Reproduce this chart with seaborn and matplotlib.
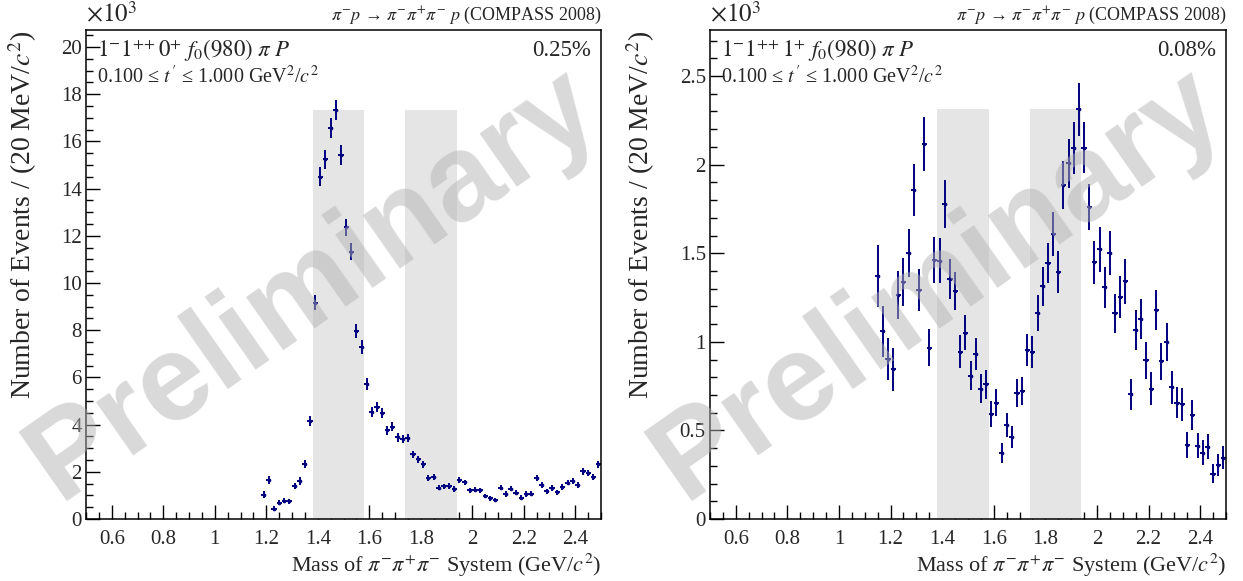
import numpy as np
import matplotlib
matplotlib.use('Agg')
import matplotlib.pyplot as plt
import seaborn as sns
from matplotlib.ticker import MultipleLocator, FuncFormatter

# bin centres (20 MeV bins)
bin_width = 0.02
mass_left = np.round(np.arange(1.19, 2.491, bin_width), 2)
mass_right = np.round(np.arange(1.15, 2.491, bin_width), 2)

# 1-1++0+ f0(980) pi P, events in units of 10^3
events_left = [1.02, 1.65, 0.44, 0.69, 0.78, 0.75, 1.40, 1.61, 2.32, 4.15,
               9.17, 14.50, 15.24, 16.55, 17.33, 15.42, 12.36, 11.33, 7.98, 7.30,
               5.71, 4.53, 4.76, 4.50, 3.77, 3.91, 3.46, 3.38, 3.43, 2.74,
               2.53, 2.32, 1.74, 1.77, 1.33, 1.38, 1.41, 1.27, 1.67, 1.55,
               1.21, 1.24, 1.21, 0.97, 0.87, 0.81, 1.33, 1.06, 1.29, 1.12,
               0.90, 1.06, 1.07, 1.72, 1.43, 1.17, 1.31, 1.13, 1.36, 1.54,
               1.61, 1.45, 2.02, 1.95, 1.79, 2.32]
err_left = [0.15, 0.17, 0.09, 0.10, 0.10, 0.10, 0.14, 0.15, 0.18, 0.23,
            0.32, 0.40, 0.41, 0.42, 0.42, 0.41, 0.35, 0.35, 0.30, 0.29,
            0.25, 0.20, 0.21, 0.20, 0.19, 0.19, 0.18, 0.18, 0.18, 0.16,
            0.15, 0.15, 0.13, 0.13, 0.12, 0.12, 0.12, 0.11, 0.13, 0.12,
            0.11, 0.11, 0.11, 0.10, 0.10, 0.09, 0.12, 0.11, 0.12, 0.11,
            0.10, 0.11, 0.11, 0.13, 0.12, 0.11, 0.12, 0.11, 0.12, 0.12,
            0.13, 0.12, 0.14, 0.14, 0.13, 0.15]

# 1-1++1+ f0(980) pi P
events_right = [1.371, 1.059, 0.903, 0.845, 1.264, 1.337, 1.499, 1.858, 1.292, 2.118,
                0.967, 1.463, 1.458, 1.779, 1.353, 1.287, 0.944, 1.052, 0.809, 0.931,
                0.735, 0.760, 0.593, 0.656, 0.372, 0.529, 0.463, 0.713, 0.722, 0.955,
                0.942, 1.163, 1.315, 1.443, 1.608, 1.394, 1.887, 2.007, 2.094, 2.312,
                2.096, 1.761, 1.450, 1.522, 1.307, 1.501, 1.161, 1.253, 1.341, 0.703,
                1.067, 1.129, 0.897, 0.735, 1.178, 0.890, 1.001, 0.743, 0.656, 0.647,
                0.419, 0.587, 0.414, 0.374, 0.408, 0.256, 0.303, 0.346]
err_right = [0.177, 0.145, 0.118, 0.120, 0.137, 0.136, 0.135, 0.147, 0.120, 0.152,
             0.103, 0.130, 0.126, 0.134, 0.113, 0.109, 0.092, 0.098, 0.083, 0.090,
             0.081, 0.081, 0.073, 0.076, 0.056, 0.068, 0.063, 0.079, 0.080, 0.091,
             0.091, 0.100, 0.110, 0.113, 0.126, 0.116, 0.135, 0.137, 0.145, 0.150,
             0.145, 0.132, 0.121, 0.127, 0.118, 0.125, 0.110, 0.118, 0.126, 0.089,
             0.113, 0.114, 0.104, 0.094, 0.113, 0.105, 0.108, 0.095, 0.088, 0.093,
             0.072, 0.085, 0.071, 0.070, 0.070, 0.055, 0.063, 0.064]

bands = [(1.38, 1.58), (1.74, 1.94)]

wave_labels = [r'$1^{-}1^{+\!+}0^{+}\ f_{0}(980)\ \pi\ P$', r'$1^{-}1^{+\!+}1^{+}\ f_{0}(980)\ \pi\ P$']
fractions = ['0.25%', '0.08%']
ylims = [20.72, 2.76]
major_y = [2, 0.5]
minor_y = [0.5, 0.1]

sns.set_style('ticks')
plt.rcParams['font.family'] = ['Liberation Serif', 'DejaVu Serif']
plt.rcParams['mathtext.fontset'] = 'stix'

navy = '#000080'

fig = plt.figure(figsize=(12.43, 5.81), dpi=100)
axes = [fig.add_axes([0.0692, 0.1067, 0.4143, 0.8417]),
        fig.add_axes([0.5712, 0.1067, 0.4151, 0.8417])]

data = [(mass_left, events_left, err_left), (mass_right, events_right, err_right)]

fmt = FuncFormatter(lambda v, p: '%g' % round(v, 3))

for i, ax in enumerate(axes):
    m, ev, er = data[i]
    top = max(ev)
    for lo, hi in bands:
        ax.fill_between([lo, hi], 0, top, color='#e5e5e5', lw=0, zorder=1)
    ax.errorbar(m, ev, yerr=er, xerr=bin_width / 2, fmt='none', ecolor=navy,
                elinewidth=1.4, capsize=0, zorder=3)
    sns.scatterplot(x=m, y=ev, ax=ax, s=7, color=navy, edgecolor=navy,
                    linewidth=0, zorder=4)

    ax.set_xlim(0.5, 2.5)
    ax.set_ylim(0, ylims[i])
    ax.xaxis.set_major_locator(MultipleLocator(0.2))
    ax.xaxis.set_minor_locator(MultipleLocator(0.05))
    ax.yaxis.set_major_locator(MultipleLocator(major_y[i]))
    ax.yaxis.set_minor_locator(MultipleLocator(minor_y[i]))
    ax.xaxis.set_major_formatter(fmt)
    ax.yaxis.set_major_formatter(fmt)
    ax.tick_params(which='both', direction='in', top=False, right=False, color='black')
    ax.tick_params(which='major', length=10, width=1)
    ax.tick_params(which='minor', length=5, width=1)
    ax.tick_params(axis='x', labelsize=15, pad=8)
    ax.tick_params(axis='y', labelsize=15, pad=3)
    for s in ax.spines.values():
        s.set_linewidth(1.1)
        s.set_color('black')
        s.set_zorder(6)

    ax.set_xlabel(r'Mass of $\pi^{-}\pi^{+}\pi^{-}$ System (GeV/$c^{2}$)', fontsize=16,
                  loc='right', labelpad=2)
    ax.set_ylabel(r'Number of Events / (20 MeV/$c^{2}$)', fontsize=20, loc='top',
                  labelpad=16)

    ax.text(0.0, 1.006, r'$\times10^{3}$', transform=ax.transAxes, fontsize=18,
            ha='left', va='bottom')
    ax.text(1.0, 1.008, r'$\pi^{-}p$ → $\pi^{-}\pi^{+}\pi^{-}$ $p$ (COMPASS 2008)',
            transform=ax.transAxes, fontsize=13, ha='right', va='bottom')
    ax.text(0.022, 0.958, wave_labels[i], transform=ax.transAxes, fontsize=16.5,
            ha='left', va='center')
    ax.text(0.98, 0.958, fractions[i], transform=ax.transAxes, fontsize=16.5,
            ha='right', va='center')
    ax.text(0.022, 0.903, r"0.100 ≤ $t\,'$ ≤ 1.000 GeV$^{2}$/$c^{2}$",
            transform=ax.transAxes, fontsize=14.5, ha='left', va='center')

# watermark on top of everything
for xc in [0.252, 0.755]:
    fig.text(xc, 0.51, 'Preliminary', fontsize=88, fontweight='bold',
             family='Liberation Sans', color='0.7', alpha=0.5, rotation=35,
             ha='center', va='center', zorder=10)

fig.savefig('out.png', dpi=100)
